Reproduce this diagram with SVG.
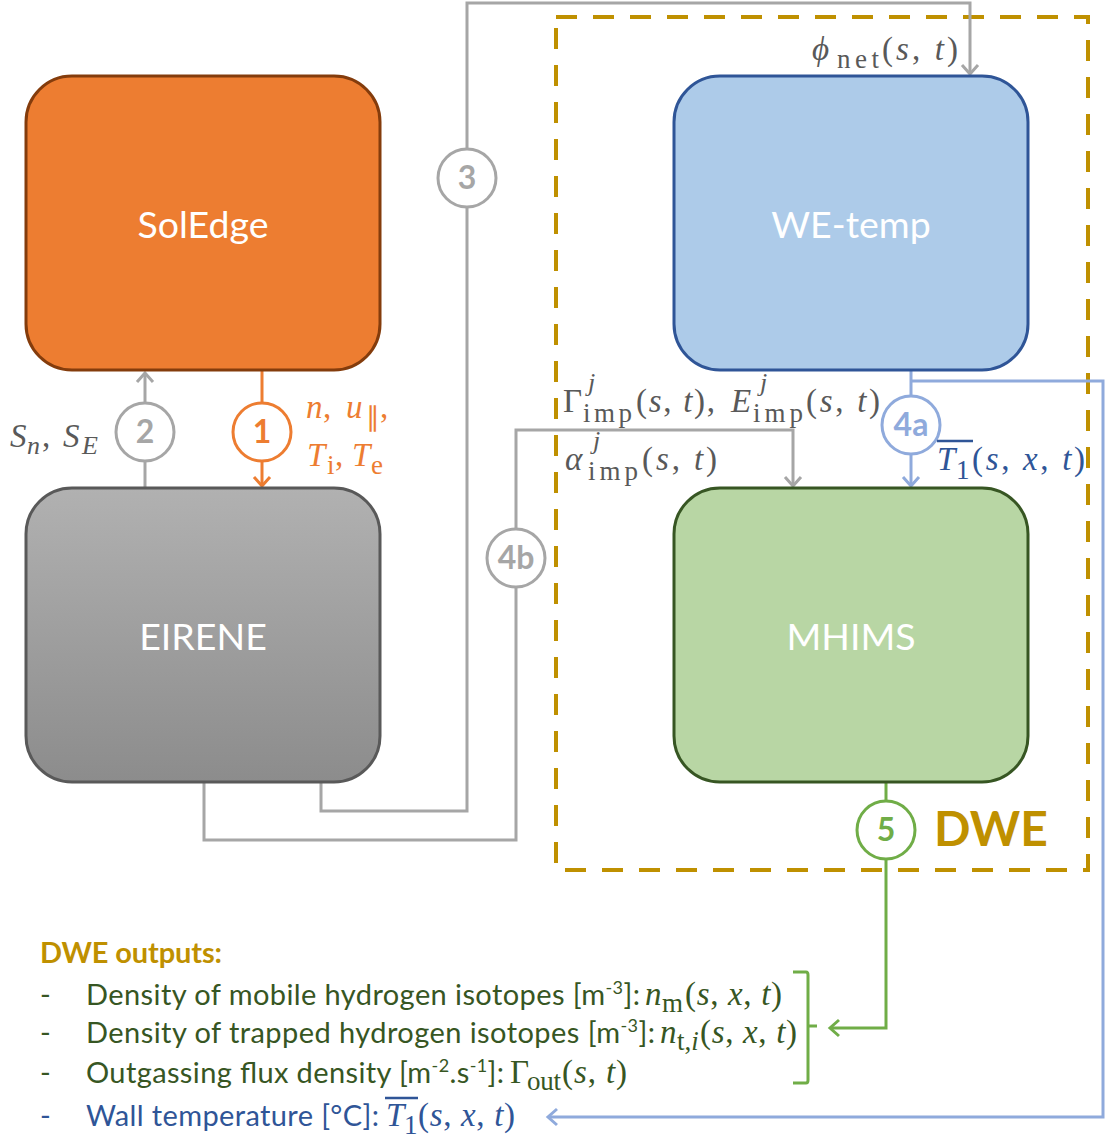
<svg xmlns="http://www.w3.org/2000/svg" width="1107" height="1141" viewBox="0 0 1107 1141">
<defs>
<linearGradient id="gGray" x1="0" y1="0" x2="0" y2="1">
<stop offset="0" stop-color="#B1B1B1"/>
<stop offset="1" stop-color="#8C8C8C"/>
</linearGradient>
<marker id="aGray" markerUnits="userSpaceOnUse" markerWidth="24" markerHeight="24" viewBox="-12 -12 24 24" refX="0" refY="0" orient="auto"><path d="M-9,-8 L0,0 L-9,8" fill="none" stroke="#A6A6A6" stroke-width="3"/></marker>
<marker id="aOrange" markerUnits="userSpaceOnUse" markerWidth="24" markerHeight="24" viewBox="-12 -12 24 24" refX="0" refY="0" orient="auto"><path d="M-9,-8 L0,0 L-9,8" fill="none" stroke="#ED7D31" stroke-width="3"/></marker>
<marker id="aBlue" markerUnits="userSpaceOnUse" markerWidth="24" markerHeight="24" viewBox="-12 -12 24 24" refX="0" refY="0" orient="auto"><path d="M-9,-8 L0,0 L-9,8" fill="none" stroke="#8FAADC" stroke-width="3"/></marker>
<marker id="aGreen" markerUnits="userSpaceOnUse" markerWidth="24" markerHeight="24" viewBox="-12 -12 24 24" refX="0" refY="0" orient="auto"><path d="M-9,-8 L0,0 L-9,8" fill="none" stroke="#70AD47" stroke-width="3"/></marker>
</defs>
<style>
.box{stroke-width:3}
.lbl{font-family:Lato,"Open Sans",sans-serif;font-size:37.5px;fill:#FFFFFF;text-anchor:middle}
.num{font-family:Lato,"Open Sans",sans-serif;font-size:32px;font-weight:bold;text-anchor:middle}
.circ{fill:#FFFFFF;stroke-width:3}
.ln{fill:none;stroke-width:3}
.m{font-family:"Liberation Serif",serif;font-size:33px;font-style:italic}
.mu{font-family:"Liberation Serif",serif;font-size:33px;font-style:normal}
.sub{font-family:"Liberation Serif",serif;font-size:27px;font-style:normal}
.subi{font-family:"Liberation Serif",serif;font-size:26px;font-style:italic}
.txt{font-family:Lato,"Open Sans",sans-serif;font-size:29px}
.g{fill:#595959}
</style>

<g id="dwe-frame">
<rect x="556" y="17" width="532" height="853" fill="none" stroke="#BF9000" stroke-width="4" stroke-dasharray="21 16"/>
<text x="991" y="846" font-family="Lato,'Open Sans',sans-serif" font-size="48" font-weight="bold" fill="#BF9000" text-anchor="middle">DWE</text>
</g>

<g id="connectors">
<polyline class="ln" stroke="#A6A6A6" points="321,783 321,811 467,811 467,3 970,3 970,74" marker-end="url(#aGray)"/>
<polyline class="ln" stroke="#A6A6A6" points="204,783 204,840 516,840 516,430 793,430 793,486" marker-end="url(#aGray)"/>
<line class="ln" stroke="#A6A6A6" x1="145" y1="488" x2="145" y2="373" marker-end="url(#aGray)"/>
<line class="ln" stroke="#ED7D31" x1="262" y1="370" x2="262" y2="486" marker-end="url(#aOrange)"/>
<line class="ln" stroke="#8FAADC" x1="911" y1="370" x2="911" y2="486" marker-end="url(#aBlue)"/>
<polyline class="ln" stroke="#8FAADC" points="911,381 1103,381 1103,1117 548,1117" marker-end="url(#aBlue)"/>
<polyline class="ln" stroke="#70AD47" points="886,783 886,1028 830,1028" marker-end="url(#aGreen)"/>
<path class="ln" stroke="#70AD47" d="M793,972 L806,972 Q808,972 808,975 L808,1026 L817,1026 M808,1026 L808,1080 Q808,1083 806,1083 L793,1083"/>
<circle class="circ" stroke="#A6A6A6" cx="467" cy="178" r="29"/>
<text class="num" fill="#A6A6A6" x="467" y="189">3</text>
<circle class="circ" stroke="#A6A6A6" cx="516" cy="558" r="29"/>
<text class="num" fill="#A6A6A6" x="516" y="569">4b</text>
<circle class="circ" stroke="#A6A6A6" cx="145" cy="432" r="29"/>
<text class="num" fill="#A6A6A6" x="145" y="443">2</text>
<circle class="circ" stroke="#ED7D31" cx="262" cy="432" r="29"/>
<text class="num" fill="#ED7D31" x="262" y="443">1</text>
<circle class="circ" stroke="#8FAADC" cx="911" cy="425" r="29"/>
<text class="num" fill="#8FAADC" x="911" y="436">4a</text>
<circle class="circ" stroke="#70AD47" cx="886" cy="830" r="29"/>
<text class="num" fill="#70AD47" x="886" y="841">5</text>
</g>

<g id="soledge">
<rect class="box" x="26" y="76" width="354" height="294" rx="46" fill="#ED7D31" stroke="#843C0C"/>
<text class="lbl" x="203" y="238">SolEdge</text>
</g>
<g id="eirene">
<rect class="box" x="26" y="488" width="354" height="294" rx="46" fill="url(#gGray)" stroke="#595959"/>
<text class="lbl" x="203" y="650">EIRENE</text>
</g>
<g id="we-temp">
<rect class="box" x="674" y="76" width="354" height="294" rx="46" fill="#ADCBE9" stroke="#2F5597"/>
<text class="lbl" x="851" y="238">WE-temp</text>
</g>
<g id="mhims">
<rect class="box" x="674" y="488" width="354" height="294" rx="46" fill="#B8D6A4" stroke="#375623"/>
<text class="lbl" x="851" y="650">MHIMS</text>
</g>

<g id="labels">
<text class="m g" x="812" y="60">ϕ</text>
<text class="sub g" x="837" y="68" textLength="42">net</text>
<text class="mu g" x="882" y="60" textLength="76">(<tspan font-style="italic">s</tspan>, <tspan font-style="italic">t</tspan>)</text>

<text class="mu g" x="563" y="412">Γ</text>
<text class="subi g" x="588" y="391">j</text>
<text class="sub g" x="583" y="422" textLength="49">imp</text>
<text class="mu g" x="636" y="412" textLength="79">(<tspan font-style="italic">s</tspan>, <tspan font-style="italic">t</tspan>),</text>
<text class="m g" x="731" y="412">E</text>
<text class="subi g" x="760" y="391">j</text>
<text class="sub g" x="753" y="422" textLength="50">imp</text>
<text class="mu g" x="806" y="412" textLength="74">(<tspan font-style="italic">s</tspan>, <tspan font-style="italic">t</tspan>)</text>

<text class="m g" x="565" y="470">α</text>
<text class="subi g" x="593" y="449">j</text>
<text class="sub g" x="588" y="480" textLength="50">imp</text>
<text class="mu g" x="642" y="470" textLength="75">(<tspan font-style="italic">s</tspan>, <tspan font-style="italic">t</tspan>)</text>

<line x1="937" y1="441" x2="973" y2="441" stroke="#2F5597" stroke-width="2.5"/>
<text class="m" fill="#2F5597" x="937" y="470">T</text>
<text class="sub" fill="#2F5597" x="956" y="479">1</text>
<text class="mu" fill="#2F5597" x="972" y="470" textLength="113">(<tspan font-style="italic">s</tspan>, <tspan font-style="italic">x</tspan>, <tspan font-style="italic">t</tspan>)</text>

<text class="m g" x="10" y="447">S</text>
<text class="subi g" x="27" y="454">n</text>
<text class="mu g" x="42" y="447">,</text>
<text class="m g" x="63" y="447">S</text>
<text class="subi g" x="82" y="454">E</text>

<text class="m" fill="#ED7D31" x="306" y="418">n</text>
<text class="mu" fill="#ED7D31" x="323" y="418">,</text>
<text class="m" fill="#ED7D31" x="346" y="418">u</text>
<text class="sub" fill="#ED7D31" x="366" y="426">∥</text>
<text class="mu" fill="#ED7D31" x="380" y="418">,</text>
<text class="m" fill="#ED7D31" x="307" y="466">T</text>
<text class="sub" fill="#ED7D31" x="327" y="474">i</text>
<text class="mu" fill="#ED7D31" x="335" y="466">,</text>
<text class="m" fill="#ED7D31" x="352" y="466">T</text>
<text class="sub" fill="#ED7D31" x="371" y="474">e</text>
</g>

<g id="outputs">
<text x="40" y="963" font-family="Lato,'Open Sans',sans-serif" font-size="29" font-weight="bold" fill="#BF9000" textLength="182">DWE outputs:</text>
<g fill="#375623">
<text class="txt" x="40" y="1005">-</text>
<text class="txt" x="86" y="1005" textLength="554">Density of mobile hydrogen isotopes [m<tspan font-size="18" dy="-11">-3</tspan><tspan dy="11">]:</tspan></text>
<text class="m" x="645" y="1005">n</text>
<text class="sub" x="662" y="1012">m</text>
<text class="mu" x="685" y="1005" textLength="97">(<tspan font-style="italic">s</tspan>, <tspan font-style="italic">x</tspan>, <tspan font-style="italic">t</tspan>)</text>
<text class="txt" x="40" y="1043">-</text>
<text class="txt" x="86" y="1043" textLength="569">Density of trapped hydrogen isotopes [m<tspan font-size="18" dy="-11">-3</tspan><tspan dy="11">]:</tspan></text>
<text class="m" x="660" y="1043">n</text>
<text class="sub" x="677" y="1050">t,<tspan font-style="italic">i</tspan></text>
<text class="mu" x="700" y="1043" textLength="97">(<tspan font-style="italic">s</tspan>, <tspan font-style="italic">x</tspan>, <tspan font-style="italic">t</tspan>)</text>
<text class="txt" x="40" y="1083">-</text>
<text class="txt" x="86" y="1083" textLength="418">Outgassing flux density [m<tspan font-size="18" dy="-11">-2</tspan><tspan dy="11">.s</tspan><tspan font-size="18" dy="-11">-1</tspan><tspan dy="11">]:</tspan></text>
<text class="mu" x="510" y="1083">Γ</text>
<text class="sub" x="527" y="1090" textLength="34">out</text>
<text class="mu" x="562" y="1083" textLength="65">(<tspan font-style="italic">s</tspan>, <tspan font-style="italic">t</tspan>)</text>
</g>
<g fill="#2F5597">
<text class="txt" x="40" y="1126">-</text>
<text class="txt" x="86" y="1126" textLength="293">Wall temperature [°C]:</text>
<line x1="385" y1="1098" x2="418" y2="1098" stroke="#2F5597" stroke-width="2.5"/>
<text class="m" x="386" y="1126">T</text>
<text class="sub" x="404" y="1134">1</text>
<text class="mu" x="418" y="1126" textLength="97">(<tspan font-style="italic">s</tspan>, <tspan font-style="italic">x</tspan>, <tspan font-style="italic">t</tspan>)</text>
</g>
</g>
</svg>
